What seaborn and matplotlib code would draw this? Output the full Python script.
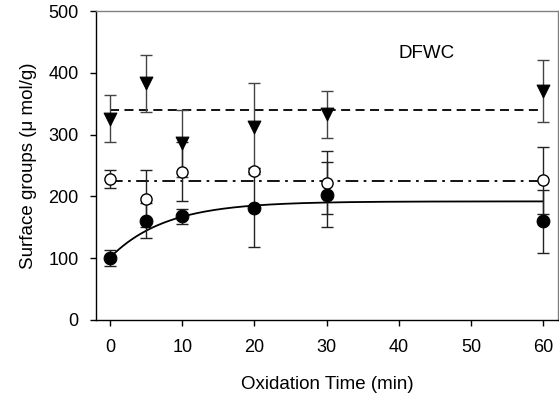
import numpy as np
import pandas as pd
import matplotlib
matplotlib.use("Agg")
import matplotlib.pyplot as plt
import seaborn as sns

# ---- data ----
time_min = [0, 5, 10, 20, 30, 60]
filled_vals = [101, 161, 168, 182, 203, 160]
filled_err = [13, 29, 12, 64, 53, 51]
open_vals = [228, 196, 240, 241, 222, 226]
open_err = [15, 46, 48, 5, 51, 54]
tri_vals = [326, 383, 286, 312, 333, 371]
tri_err = [38, 46, 54, 72, 38, 50]
tri_mean_level = 340
open_mean_level = 225
# exponential-rise fit (y = a - b*exp(-k t)) parameters for the filled series
fit_a, fit_b, fit_k = 192.0, 91.0, 0.13
x_ticks = [0, 10, 20, 30, 40, 50, 60]
y_ticks = [0, 100, 200, 300, 400, 500]

sns.set_theme(style="white")
plt.rcParams["font.family"] = ["Liberation Sans", "DejaVu Sans"]

fig = plt.figure(figsize=(5.59, 3.97), dpi=100)
ax = fig.add_axes([0.1717, 0.194, 0.8263, 0.778])

# fit curve
t_fit = np.linspace(0, 60, 300)
fit_df = pd.DataFrame({"t": t_fit, "y": fit_a - fit_b * np.exp(-fit_k * t_fit)})
sns.lineplot(data=fit_df, x="t", y="y", ax=ax, color="black", lw=1.3, zorder=2)

# horizontal mean lines
ax.plot([0, 60], [tri_mean_level] * 2, color="black", lw=1.3, ls=(0, (5, 3)), zorder=2)
ax.plot([0, 60], [open_mean_level] * 2, color="black", lw=1.3, ls=(0, (7, 3, 1.5, 3)), zorder=2)

# error bars
for vals, errs, col in [(tri_vals, tri_err, "#444444"), (open_vals, open_err, "#222222"),
                        (filled_vals, filled_err, "#222222")]:
    ax.errorbar(time_min, vals, yerr=errs, fmt="none", ecolor=col, elinewidth=1.0,
                capsize=4, capthick=1.0, zorder=3)

df = pd.DataFrame({"t": time_min, "filled": filled_vals, "open": open_vals, "tri": tri_vals})
sns.scatterplot(data=df, x="t", y="tri", ax=ax, marker="v", s=85, color="black",
                edgecolor="black", zorder=4)
sns.scatterplot(data=df, x="t", y="open", ax=ax, marker="o", s=65, facecolor="white",
                edgecolor="black", linewidth=1.0, zorder=4)
sns.scatterplot(data=df, x="t", y="filled", ax=ax, marker="o", s=85, color="black",
                edgecolor="black", zorder=5)

ax.set_xlim(-1.95, 62.05)
ax.set_ylim(0, 500)
ax.set_xticks(x_ticks)
ax.set_yticks(y_ticks)
ax.tick_params(axis="both", direction="out", length=4, width=1, color="black",
               labelsize=13, labelcolor="black", bottom=True, left=True)
ax.tick_params(axis="y", pad=8, length=4.5)
ax.tick_params(axis="x", pad=10)

for side in ["left", "bottom"]:
    ax.spines[side].set_color("black")
    ax.spines[side].set_linewidth(1.0)
for side in ["top", "right"]:
    ax.spines[side].set_color("#808080")
    ax.spines[side].set_linewidth(1.0)

ax.set_xlabel("Oxidation Time (min)", fontsize=13.5, color="black", labelpad=14)
ax.set_ylabel("Surface groups (\u03bc mol/g)", fontsize=13.5, color="black", labelpad=8)
ax.text(43.9, 432, "DFWC", fontsize=13.5, ha="center", va="center", color="black")

fig.savefig("out.png", dpi=100)
